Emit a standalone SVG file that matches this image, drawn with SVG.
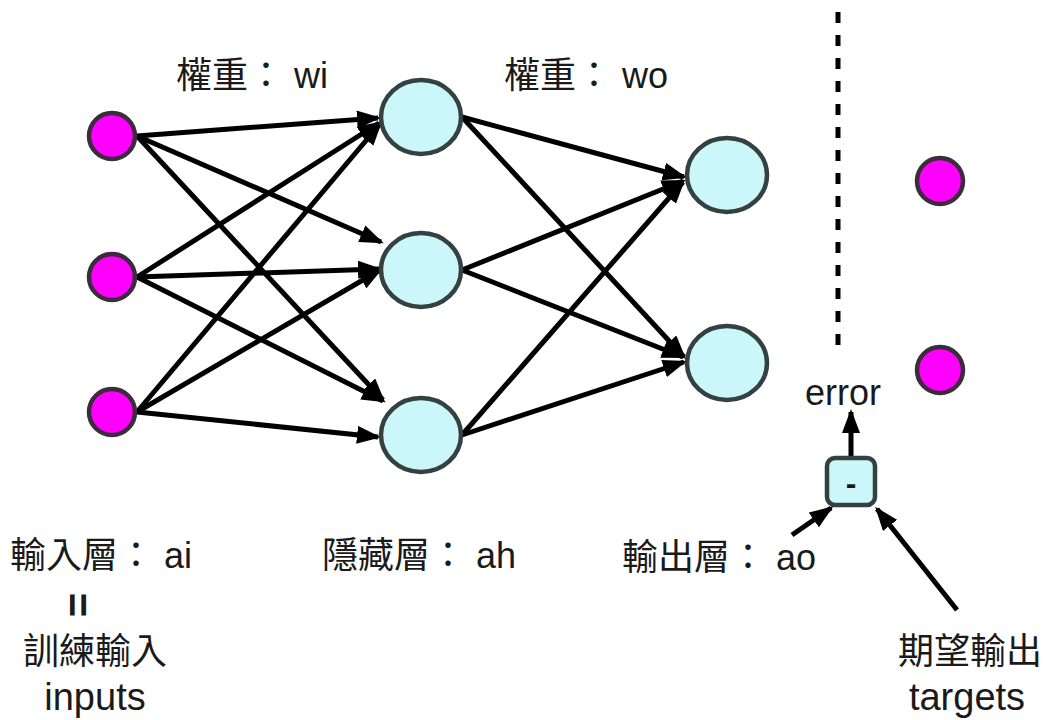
<svg xmlns="http://www.w3.org/2000/svg" width="1048" height="720" viewBox="0 0 1048 720">
<defs>
<marker id="ah" viewBox="0 0 24 18" refX="21" refY="9" markerWidth="24" markerHeight="18" markerUnits="userSpaceOnUse" orient="auto">
<path d="M0,0 L24,9 L0,18 z" fill="#000"/>
</marker>
</defs>
<style>
.c{stroke:#000;stroke-width:5;fill:none;marker-end:url(#ah)}
.in{fill:#ff00ff;stroke:#3a2c3a;stroke-width:4.5}
.hid{fill:#ccf7fa;stroke:#354040;stroke-width:4.5}
.t{font-family:"Liberation Sans","Noto Sans CJK TC",sans-serif;font-size:36px;fill:#1a1a1a}
</style>
<rect width="1048" height="720" fill="#fff"/>
<g id="connectors">
<line class="c" x1="137" y1="136" x2="378" y2="118"/>
<line class="c" x1="137" y1="136" x2="381" y2="242"/>
<line class="c" x1="137" y1="136" x2="383" y2="400"/>
<line class="c" x1="137" y1="277" x2="379" y2="123"/>
<line class="c" x1="137" y1="277" x2="379" y2="269"/>
<line class="c" x1="137" y1="277" x2="383" y2="401"/>
<line class="c" x1="137" y1="412" x2="380" y2="124"/>
<line class="c" x1="137" y1="412" x2="380" y2="270"/>
<line class="c" x1="137" y1="412" x2="378" y2="437"/>
<line class="c" x1="462" y1="117" x2="684" y2="177"/>
<line class="c" x1="462" y1="117" x2="684" y2="357"/>
<line class="c" x1="462" y1="270" x2="683" y2="181"/>
<line class="c" x1="462" y1="270" x2="683" y2="357"/>
<line class="c" x1="462" y1="435" x2="683" y2="182"/>
<line class="c" x1="462" y1="435" x2="684" y2="362"/>
<line class="c" x1="851" y1="456" x2="851" y2="412"/>
<line class="c" x1="792" y1="535" x2="831" y2="508"/>
<line class="c" x1="957" y1="610" x2="877" y2="509"/>
<line x1="838" y1="12" x2="838" y2="346" stroke="#000" stroke-width="5" stroke-dasharray="11 12"/>
</g>
<g id="in1"><circle class="in" cx="112" cy="136" r="23"/></g>
<g id="in2"><circle class="in" cx="112" cy="277" r="23"/></g>
<g id="in3"><circle class="in" cx="112" cy="412" r="23"/></g>
<g id="h1"><ellipse class="hid" cx="421" cy="117" rx="40" ry="37"/></g>
<g id="h2"><ellipse class="hid" cx="421" cy="270" rx="40" ry="37"/></g>
<g id="h3"><ellipse class="hid" cx="421" cy="435" rx="40" ry="37"/></g>
<g id="o1"><ellipse class="hid" cx="727" cy="175" rx="40" ry="37"/></g>
<g id="o2"><ellipse class="hid" cx="727" cy="363" rx="40" ry="37"/></g>
<g id="tg1"><circle class="in" cx="940" cy="181" r="23"/></g>
<g id="tg2"><circle class="in" cx="940" cy="370" r="23"/></g>
<g id="minus">
<rect x="827" y="458" width="48" height="47" rx="8" class="hid"/>
<text class="t" x="851" y="494" text-anchor="middle" style="font-size:32px;font-weight:bold">-</text>
</g>
<g id="labels">
<text class="t" x="176" y="88">權重： wi</text>
<text class="t" x="504" y="88">權重： wo</text>
<text class="t" x="10" y="568">輸入層： ai</text>
<text class="t" x="77" y="605" text-anchor="middle" dominant-baseline="central" transform="rotate(90 77 605)" style="font-size:42px;font-weight:bold">=</text>
<text class="t" x="95" y="664" text-anchor="middle">訓練輸入</text>
<text class="t" x="95" y="710" text-anchor="middle" style="font-size:38px">inputs</text>
<text class="t" x="322" y="568">隱藏層： ah</text>
<text class="t" x="622" y="570">輸出層： ao</text>
<text class="t" x="843" y="405" text-anchor="middle">error</text>
<text class="t" x="970" y="664" text-anchor="middle">期望輸出</text>
<text class="t" x="967" y="710" text-anchor="middle" style="font-size:38px">targets</text>
</g>
</svg>
